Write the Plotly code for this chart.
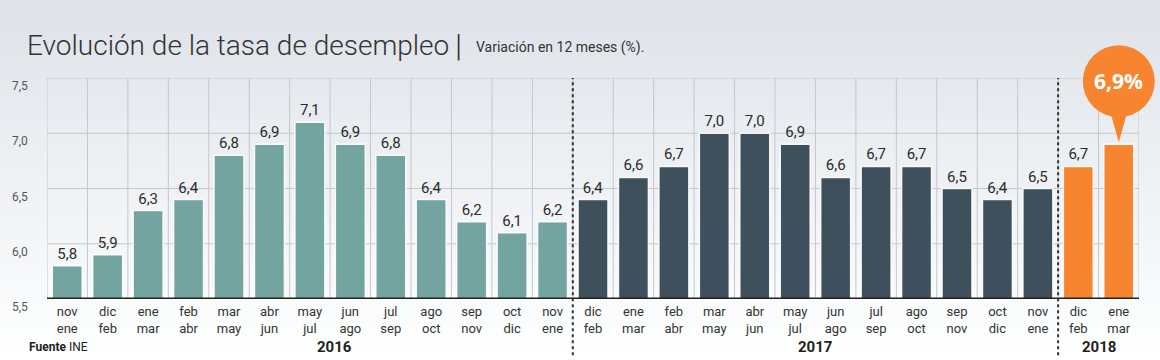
import plotly.graph_objects as go

# ---- data ----
periods = ["nov<br>ene", "dic<br>feb", "ene<br>mar", "feb<br>abr", "mar<br>may", "abr<br>jun",
           "may<br>jul", "jun<br>ago", "jul<br>sep", "ago<br>oct", "sep<br>nov", "oct<br>dic",
           "nov<br>ene",
           "dic<br>feb", "ene<br>mar", "feb<br>abr", "mar<br>may", "abr<br>jun", "may<br>jul",
           "jun<br>ago", "jul<br>sep", "ago<br>oct", "sep<br>nov", "oct<br>dic", "nov<br>ene",
           "dic<br>feb", "ene<br>mar"]
values_2016 = [5.8, 5.9, 6.3, 6.4, 6.8, 6.9, 7.1, 6.9, 6.8, 6.4, 6.2, 6.1, 6.2]
values_2017 = [6.4, 6.6, 6.7, 7.0, 7.0, 6.9, 6.6, 6.7, 6.7, 6.5, 6.4, 6.5]
values_2018 = [6.7, 6.9]
years = ["2016", "2017", "2018"]
y_ticks = [5.5, 6.0, 6.5, 7.0, 7.5]

colors = {"2016": "#74a49f", "2017": "#3e505b", "2018": "#f7852f"}
font_main = "Roboto, Arial"

Y0, Y1 = 5.5, 7.5
groups = [values_2016, values_2017, values_2018]
fig = go.Figure()
start = 0
starts = []
for yr, vals in zip(years, groups):
    xs = list(range(start, start + len(vals)))
    starts.append(start)
    texts = [f"{v:.1f}".replace(".", ",") for v in vals]
    if yr == "2018":
        texts[-1] = ""
    fig.add_trace(go.Bar(
        x=xs, y=vals, width=0.74,
        marker=dict(color=colors[yr], line=dict(color="rgba(255,255,255,0.9)", width=1.5)),
        text=texts, textposition="outside", cliponaxis=False,
        textfont=dict(size=15, color="#2b2b2b", family=font_main),
        hoverinfo="skip", showlegend=False))
    start += len(vals)
n = start

shapes = []
# background gradient
steps = 30
for i in range(steps):
    t = i / (steps - 1)
    c0 = (0xdf, 0xe4, 0xea)
    col = tuple(int(c0[k] + (255 - c0[k]) * t) for k in range(3))
    ytop = 1 + 78 / 221 - i * (360 / 221) / steps
    shapes.append(dict(type="rect", xref="paper", yref="paper",
                       x0=-47 / 1092, x1=1 + 21 / 1092, y0=ytop - (360 / 221) / steps - 0.01, y1=ytop,
                       fillcolor="rgb(%d,%d,%d)" % col, line=dict(width=0), layer="below"))
# vertical gridlines at category boundaries
for i in range(n + 1):
    shapes.append(dict(type="line", xref="x", yref="y", x0=i - 0.5, x1=i - 0.5, y0=Y0, y1=Y1,
                       line=dict(color="#c3c8ce", width=1), layer="below"))
# horizontal gridlines
for v in y_ticks[1:]:
    shapes.append(dict(type="line", xref="x", yref="y", x0=-0.5, x1=n - 0.5, y0=v, y1=v,
                       line=dict(color="#c3c8ce", width=1), layer="below"))
# base axis line
shapes.append(dict(type="line", xref="x", yref="y", x0=-0.5, x1=n - 0.5, y0=Y0, y1=Y0,
                   line=dict(color="#222", width=3)))
# dotted separators between years
for s in starts[1:]:
    shapes.append(dict(type="line", xref="x", yref="paper", x0=s - 0.5, x1=s - 0.5,
                       y0=-0.255, y1=1, line=dict(color="#333", width=2, dash="dot")))
# callout circle and pointer for the last value (paper-referenced so it is not clipped)
last_x = n - 1
last_v = values_2018[-1]
px_anchor = (last_x + 0.5) / n
py_anchor = (last_v - Y0) / (Y1 - Y0)
shapes.append(dict(type="circle", xref="paper", yref="paper", xsizemode="pixel", ysizemode="pixel",
                   xanchor=px_anchor, yanchor=py_anchor, x0=-36, x1=36, y0=27, y1=99,
                   fillcolor="#f7852f", line=dict(width=0)))
shapes.append(dict(type="path", xref="paper", yref="paper", xsizemode="pixel", ysizemode="pixel",
                   xanchor=px_anchor, yanchor=py_anchor, path="M -9,34 L 9,34 L 0,2 Z",
                   fillcolor="#f7852f", line=dict(width=0)))

annotations = []
# y tick labels (offset below gridline as in reference)
for v in y_ticks:
    annotations.append(dict(xref="paper", yref="y", x=0, xshift=-27, y=v, yshift=-8,
                            xanchor="center", yanchor="middle",
                            text=f"{v:.1f}".replace(".", ","), showarrow=False,
                            font=dict(size=12, color="#555", family=font_main)))
# year labels
year_centers = [6.6, 18.5, 25.5]
for yr, xc in zip(years, year_centers):
    annotations.append(dict(xref="x", yref="paper", x=xc, y=-48 / 221, text=f"<b>{yr}</b>",
                            xanchor="center", yanchor="middle",
                            showarrow=False, font=dict(size=15, color="#222", family=font_main)))
# callout text
annotations.append(dict(xref="paper", yref="paper", x=px_anchor, y=py_anchor, yshift=63,
                        xanchor="center", yanchor="middle",
                        text="<b>6,9%</b>", showarrow=False,
                        font=dict(size=21, color="white", family="Open Sans, Arial")))
# title
annotations.append(dict(xref="paper", yref="paper", x=-22 / 1092, y=(299 - 45) / 221,
                        xanchor="left", yanchor="middle",
                        text="Evolución de la tasa de desempleo", showarrow=False,
                        font=dict(size=28, color="#333", family=font_main, weight=300)))
annotations.append(dict(xref="paper", yref="paper", x=(458 - 47) / 1092, y=(299 - 45) / 221,
                        xanchor="center", yanchor="middle", text="|", showarrow=False,
                        font=dict(size=32, color="#333", family=font_main, weight=300)))
annotations.append(dict(xref="paper", yref="paper", x=(474 - 47) / 1092, y=(299 - 47) / 221,
                        xanchor="left", yanchor="middle", text="Variación en 12 meses (%).",
                        showarrow=False, font=dict(size=14, color="#333", family=font_main)))
# source
annotations.append(dict(xref="paper", yref="paper", x=-20 / 1092, y=-48 / 221,
                        xanchor="left", yanchor="middle",
                        text="<b>Fuente</b> INE", showarrow=False,
                        font=dict(size=12, color="#222", family=font_main)))

fig.update_layout(
    width=1160, height=360,
    margin=dict(l=47, r=21, t=78, b=61, autoexpand=False),
    paper_bgcolor="white", plot_bgcolor="rgba(0,0,0,0)",
    barmode="overlay",
    shapes=shapes, annotations=annotations,
    xaxis=dict(range=[-0.5, n - 0.5], tickvals=list(range(n)), ticktext=periods,
               showgrid=False, zeroline=False, showline=False, ticks="", automargin=False,
               ticklabelstandoff=3,
               tickfont=dict(size=13, color="#333", family=font_main), fixedrange=True),
    yaxis=dict(range=[Y0, Y1], showgrid=False, zeroline=False, showticklabels=False,
               automargin=False, fixedrange=True),
)
fig.write_html("out.html", config={"displayModeBar": False},
               post_script="document.body.style.margin='0';document.body.style.overflow='hidden';")
